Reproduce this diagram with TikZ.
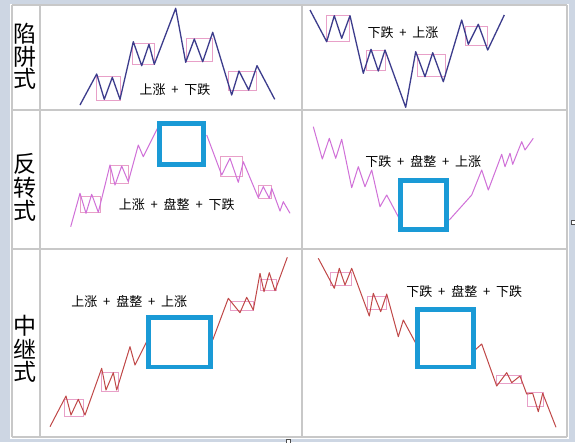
\documentclass[tikz,border=0pt]{standalone}
\usepackage{fontspec}
\newfontfamily\cjk{Noto Sans CJK SC}
\definecolor{bgc}{HTML}{CDD6E3}
\definecolor{gridc}{HTML}{C8C8C8}
\definecolor{navy}{HTML}{3C3C8C}
\definecolor{violet}{HTML}{D070D8}
\definecolor{redl}{HTML}{C04848}
\definecolor{pinkb}{HTML}{E8A0C8}
\definecolor{blueb}{HTML}{1A9AD6}
\newcommand\pl{\hspace{0.45em}+\hspace{0.45em}}
\tikzset{
  grid line/.style={draw=gridc, line width=1.5pt},
  navyline/.style={draw=navy, line width=1.3pt, line join=round},
  vioLine/.style={draw=violet, line width=1pt, line join=round},
  redLine/.style={draw=redl, line width=1pt, line join=round},
  pbox/.style={draw=pinkb, line width=0.7pt},
  bbox/.style={draw=blueb, line width=4.5pt},
  lbl/.style={font=\cjk\fontsize{13}{15}\selectfont, text=black, inner sep=0pt},
  side/.style={font=\cjk\fontsize{23}{24}\selectfont, text=black, inner sep=0pt},
  handle/.style={draw=black!70, fill=white, line width=0.6pt}
}
\begin{document}
\begin{tikzpicture}[x=1pt,y=-1pt]
\useasboundingbox (0,0) rectangle (575,442);
\fill[bgc] (0,0) rectangle (575,442);
\fill[white] (10,4) rectangle (569,438.5);
% grid
\draw[grid line] (12,5) -- (567,5);
\draw[grid line] (12,110) -- (567,110);
\draw[grid line] (12,249) -- (567,249);
\draw[grid line] (12,437) -- (567,437);
\draw[grid line] (12,5) -- (12,437);
\draw[grid line] (40,5) -- (40,437);
\draw[grid line] (302,5) -- (302,437);
\draw[grid line] (567,5) -- (567,437);
% side labels
\node[side] (s1a) at (25,34) {陷};
\node[side] (s1b) at (25,56.5) {阱};
\node[side] (s1c) at (25,79) {式};
\node[side] (s2a) at (25,164) {反};
\node[side] (s2b) at (25,187.5) {转};
\node[side] (s2c) at (25,211) {式};
\node[side] (s3a) at (25,326) {中};
\node[side] (s3b) at (25,349) {继};
\node[side] (s3c) at (25,372) {式};
% panel 1
\draw[pbox] (96.7,76) rectangle (120.7,100.7);
\draw[pbox] (132.7,43.3) rectangle (154.3,64.3);
\draw[pbox] (186.7,38.3) rectangle (212.3,61);
\draw[pbox] (228.7,71) rectangle (256,90.7);
\draw[navyline] (80,105) -- (96.7,74) -- (104.3,99.3) -- (112.3,77.3) -- (120,99.3) -- (133.3,41.7) -- (141.7,65.7) -- (149,44.3) -- (154.3,64.3) -- (175.7,8.3) -- (185.7,62.3) -- (194.3,39) -- (202.7,61.7) -- (212.7,32.3) -- (231.7,95) -- (239,71) -- (248.7,90) -- (257,65.7) -- (274.7,99.3);
\node[lbl] (t1) at (175,90) {上涨\pl 下跌};
% panel 2
\draw[pbox] (326.7,15.7) rectangle (349,41.7);
\draw[pbox] (366,50) rectangle (385.7,70.7);
\draw[pbox] (417.3,54.3) rectangle (445,76.7);
\draw[pbox] (465.7,26) rectangle (487.7,45);
\draw[navyline] (310,10) -- (326.7,41.7) -- (334.3,15.7) -- (341.7,38.3) -- (350,15.7) -- (363.3,73.3) -- (371,49.3) -- (378.3,71) -- (385,50) -- (405.7,107.3) -- (415.7,51.7) -- (425,76.7) -- (432.7,52.7) -- (443.3,81.7) -- (461.7,20) -- (468.3,44.3) -- (478.3,24.3) -- (487.7,50) -- (504.3,15);
\node[lbl] (t2) at (403,33) {下跌\pl 上涨};
% panel 3
\draw[pbox] (80,196.7) rectangle (100,212.7);
\draw[pbox] (110,165) rectangle (128.3,183.3);
\draw[pbox] (220.7,156.7) rectangle (242.7,176.7);
\draw[pbox] (258.3,185.7) rectangle (271.7,198.3);
\draw[vioLine] (70.7,226.7) -- (80,193.3) -- (86,213.3) -- (91.7,194.3) -- (98.3,212.3) -- (110,165) -- (115,185) -- (121.7,166) -- (128.3,181.7) -- (138.3,145) -- (143.3,156.7) -- (158.3,126.7);
\draw[vioLine] (206.7,135) -- (221.7,175) -- (230,158.3) -- (238.3,182.3) -- (243.3,161.7) -- (258.3,197.7) -- (263.3,186.7) -- (269.3,198.3) -- (271.7,188.3) -- (280,211) -- (283.3,201.7) -- (290,213.3);
\draw[bbox] (159.7,123.3) rectangle (203.7,164.7);
\node[lbl] (t3) at (176.7,204.3) {上涨\pl 盘整\pl 下跌};
% panel 4
\draw[vioLine] (313.3,126.7) -- (322.3,159) -- (329.3,138.3) -- (335.7,158.3) -- (341.7,139.3) -- (351.7,187.7) -- (358.3,166.7) -- (365,186.7) -- (371.7,170) -- (380,206.7) -- (386.7,195) -- (400,220);
\draw[vioLine] (449.3,220) -- (471.7,195) -- (481.7,170) -- (488.3,190) -- (501.7,154.3) -- (505,166.7) -- (510,153.3) -- (512.7,164.3) -- (521.7,141.7) -- (525,150) -- (533.3,138.3);
\draw[bbox] (400.7,180.3) rectangle (446.7,229.7);
\node[lbl] (t4) at (423.3,161.7) {下跌\pl 盘整\pl 上涨};
% panel 5
\draw[pbox] (64.3,399.3) rectangle (83.3,416);
\draw[pbox] (101.7,372.7) rectangle (118.3,391.7);
\draw[pbox] (230,301.7) rectangle (253.3,310);
\draw[pbox] (260,279.3) rectangle (276,290);
\draw[redLine] (50,426.7) -- (66,396) -- (71,415) -- (78.3,399.3) -- (85,415) -- (101.7,368.3) -- (106,390) -- (113.3,372.7) -- (116.7,390) -- (130,346.7) -- (135,365) -- (146.7,341.7);
\draw[redLine] (212.7,340) -- (228.3,298.3) -- (240,312.7) -- (246.7,297.3) -- (253.3,310) -- (260,273.3) -- (264,291.7) -- (269.3,272.7) -- (275,290.7) -- (287.3,257.3);
\draw[bbox] (148.7,317.3) rectangle (210.7,367);
\node[lbl] (t5) at (129.3,301.7) {上涨\pl 盘整\pl 上涨};
% panel 6
\draw[pbox] (330,272.3) rectangle (351.7,285);
\draw[pbox] (367.7,296) rectangle (386.7,309.3);
\draw[pbox] (496.7,375) rectangle (521.7,383.3);
\draw[pbox] (527.3,392.7) rectangle (543.3,406.7);
\draw[redLine] (318.3,258.3) -- (334.3,288.3) -- (339.3,268.3) -- (345,285) -- (351.7,268.3) -- (369.3,316) -- (373.3,293.3) -- (380.7,311.7) -- (386.7,294) -- (398.3,336.7) -- (403.3,320) -- (416.7,345);
\draw[redLine] (475,350) -- (481.7,344) -- (496.7,386) -- (506.7,372.7) -- (511.7,382.7) -- (520,376) -- (526.7,394) -- (532.7,393.3) -- (538.3,411.7) -- (542.7,393.3) -- (556,427.3);
\draw[bbox] (417.3,309.7) rectangle (473.7,367);
\node[lbl] (t6) at (464.3,291.7) {下跌\pl 盘整\pl 下跌};
% selection handles
\draw[handle] (571,220.5) rectangle (575.5,224.5);
\draw[handle] (286,439.5) rectangle (290.5,443);
\end{tikzpicture}
\end{document}
